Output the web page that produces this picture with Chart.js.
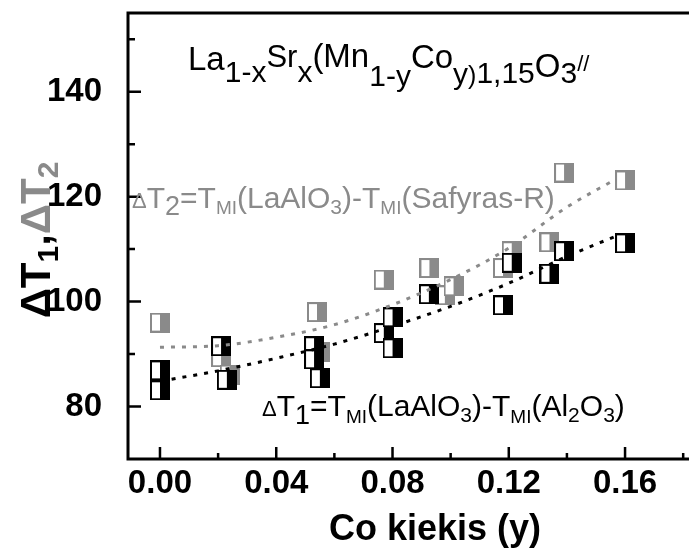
<!DOCTYPE html>
<html><head><meta charset="utf-8">
<script src="https://cdn.jsdelivr.net/npm/chart.js@4.4.0/dist/chart.umd.min.js"></script>
<style>html,body{margin:0;padding:0;background:#fff;}</style>
</head><body>
<canvas id="c" width="700" height="551" style="width:700px;height:551px;display:block"></canvas>
<script>
// ---- data ----
const xMajorTicks = [0, 0.04, 0.08, 0.12, 0.16];
const xMinorTicks = [0.02, 0.06, 0.10, 0.14, 0.18];
const yMajorTicks = [80, 100, 120, 140];
const yMinorTicks = [90, 110, 130, 150];

// dT1 (black half-filled squares)
const dT1_x = [0, 0, 0.021, 0.023, 0.053, 0.053, 0.055, 0.077, 0.080, 0.080, 0.0925, 0.118, 0.121, 0.134, 0.139, 0.160];
const dT1_y = [86.9, 83.1, 91.5, 85.1, 91.5, 89.0, 85.4, 94.0, 97.0, 91.1, 101.4, 99.3, 107.4, 105.3, 109.6, 111.1];
// dT2 (grey half-filled squares)
const dT2_x = [0, 0.021, 0.024, 0.054, 0.055, 0.077, 0.0927, 0.098, 0.101, 0.118, 0.121, 0.134, 0.139, 0.160];
const dT2_y = [96.0, 89.4, 86.1, 98.0, 90.4, 104.2, 106.4, 101.2, 102.9, 106.4, 109.6, 111.3, 124.6, 123.1];
// dotted trend curves
const fit1_x = [0.004, 0.02, 0.04, 0.06, 0.08, 0.10, 0.12, 0.14, 0.157];
const fit1_y = [85.2, 86.8, 89.2, 91.9, 95.3, 99.1, 103.5, 108.6, 112.5];
const fit2_x = [0.0, 0.02, 0.04, 0.06, 0.08, 0.10, 0.12, 0.14, 0.157];
const fit2_y = [91.3, 91.6, 93.2, 95.6, 99.4, 104.2, 110.2, 118.0, 123.4];

const BLACK = '#000000';
const GREY = '#8a8a8a';
const FONT = '"Liberation Sans", Arial, sans-serif';

function pts(xs, ys){ return xs.map((x,i)=>({x:x, y:ys[i]})); }

function makeMarker(color){
  const c = document.createElement('canvas');
  c.width = 20; c.height = 20;
  const g = c.getContext('2d');
  g.fillStyle = '#ffffff'; g.fillRect(0,0,20,20);
  g.fillStyle = color; g.fillRect(10,0,10,20);
  g.strokeStyle = color; g.lineWidth = 2; g.strokeRect(1,1,18,18);
  return c;
}
const mBlack = makeMarker(BLACK);
const mGrey = makeMarker(GREY);

function drawRich(ctx, x, y, segs, align){
  let total = 0;
  for (const s of segs){ ctx.font = (s.b?'bold ':'') + s.s + 'px ' + FONT; s.w = ctx.measureText(s.t).width; total += s.w; }
  let cx = align === 'center' ? x - total/2 : x;
  ctx.textAlign = 'left'; ctx.textBaseline = 'alphabetic';
  for (const s of segs){
    ctx.font = (s.b?'bold ':'') + s.s + 'px ' + FONT;
    ctx.fillStyle = s.c;
    ctx.fillText(s.t, cx, y + (s.dy||0));
    cx += s.w;
  }
}

const decor = {
  id: 'decor',
  afterDatasetsDraw(chart){
    const ctx = chart.ctx, a = chart.chartArea;
    const xs = chart.scales.x, ys = chart.scales.y;
    ctx.save();
    ctx.strokeStyle = '#000'; ctx.lineWidth = 3; ctx.lineCap = 'butt';
    // frame: left, bottom, top
    ctx.beginPath();
    ctx.moveTo(a.left, a.top); ctx.lineTo(a.left, a.bottom);
    ctx.moveTo(a.left - 1.5, a.bottom); ctx.lineTo(a.right, a.bottom);
    ctx.moveTo(a.left - 1.5, a.top); ctx.lineTo(a.right, a.top);
    ctx.stroke();
    ctx.lineWidth = 2.5;
    ctx.beginPath();
    for (const v of xMajorTicks){ const p = xs.getPixelForValue(v); ctx.moveTo(p, a.bottom); ctx.lineTo(p, a.bottom - 12); }
    for (const v of xMinorTicks){ const p = xs.getPixelForValue(v); ctx.moveTo(p, a.bottom); ctx.lineTo(p, a.bottom - 6); }
    for (const v of yMajorTicks){ const p = ys.getPixelForValue(v); ctx.moveTo(a.left, p); ctx.lineTo(a.left + 13, p); }
    for (const v of yMinorTicks){ const p = ys.getPixelForValue(v); ctx.moveTo(a.left, p); ctx.lineTo(a.left + 7, p); }
    ctx.stroke();

    // x-axis title
    drawRich(ctx, 435, 540, [{t:'Co kiekis (y)', s:36, b:true, c:BLACK}], 'center');

    // y-axis title, rotated
    ctx.save();
    ctx.translate(50, 240);
    ctx.rotate(-Math.PI/2);
    drawRich(ctx, 0, 0, [
      {t:'\u0394T', s:42, b:true, c:BLACK},
      {t:'1', s:30, b:true, c:BLACK, dy:8},
      {t:',', s:42, b:true, c:BLACK},
      {t:'\u0394T', s:42, b:true, c:GREY},
      {t:'2', s:30, b:true, c:GREY, dy:8}
    ], 'center');
    ctx.restore();

    // composition title
    drawRich(ctx, 188, 70, [
      {t:'La', s:33, c:BLACK},
      {t:'1-x', s:30, c:BLACK, dy:12},
      {t:'Sr', s:31, c:BLACK, dy:-3},
      {t:'x', s:30, c:BLACK, dy:12},
      {t:'(Mn', s:33, c:BLACK, dy:-3},
      {t:'1-y', s:30, c:BLACK, dy:16},
      {t:'Co', s:33, c:BLACK, dy:-2},
      {t:'y', s:30, c:BLACK, dy:14},
      {t:')', s:25, c:BLACK, dy:14},
      {t:'1,15', s:30, c:BLACK, dy:13},
      {t:'O', s:33, c:BLACK, dy:7},
      {t:'3', s:30, c:BLACK, dy:13},
      {t:'//', s:22, c:BLACK, dy:1}
    ], 'left');

    // grey annotation
    drawRich(ctx, 132, 208, [
      {t:'\u0394', s:22, c:GREY},
      {t:'T', s:30, c:GREY},
      {t:'2', s:27, c:GREY, dy:7},
      {t:'=T', s:30, c:GREY},
      {t:'MI', s:19, c:GREY, dy:6},
      {t:'(LaAlO', s:30, c:GREY},
      {t:'3', s:21, c:GREY, dy:6},
      {t:')-T', s:30, c:GREY},
      {t:'MI', s:19, c:GREY, dy:6},
      {t:'(Safyras-R)', s:30, c:GREY}
    ], 'left');

    // black annotation
    drawRich(ctx, 262, 416, [
      {t:'\u0394', s:22, c:BLACK},
      {t:'T', s:30, c:BLACK},
      {t:'1', s:27, c:BLACK, dy:8},
      {t:'=T', s:30, c:BLACK},
      {t:'MI', s:19, c:BLACK, dy:7},
      {t:'(LaAlO', s:30, c:BLACK},
      {t:'3', s:21, c:BLACK, dy:6},
      {t:')-T', s:30, c:BLACK},
      {t:'MI', s:19, c:BLACK, dy:7},
      {t:'(Al', s:30, c:BLACK},
      {t:'2', s:21, c:BLACK, dy:6},
      {t:'O', s:30, c:BLACK},
      {t:'3', s:21, c:BLACK, dy:6},
      {t:')', s:30, c:BLACK}
    ], 'left');
    ctx.restore();
  }
};

const xAll = xMajorTicks.concat(xMinorTicks).sort((a,b)=>a-b);
const yAll = yMajorTicks.concat(yMinorTicks).sort((a,b)=>a-b);

new Chart(document.getElementById('c'), {
  type: 'scatter',
  data: {
    datasets: [
      { label:'fit1', data: pts(fit1_x, fit1_y), showLine:true, pointRadius:0, borderColor:BLACK, borderWidth:3, borderDash:[4,7], cubicInterpolationMode:'monotone', fill:false },
      { label:'fit2', data: pts(fit2_x, fit2_y), showLine:true, pointRadius:0, borderColor:GREY, borderWidth:3, borderDash:[4,7], cubicInterpolationMode:'monotone', fill:false },
      { label:'dT1', data: pts(dT1_x, dT1_y), pointStyle: mBlack, pointRadius:10, showLine:false },
      { label:'dT2', data: pts(dT2_x, dT2_y), pointStyle: mGrey, pointRadius:10, showLine:false }
    ]
  },
  options: {
    responsive:false, animation:false, devicePixelRatio:1, events:[],
    layout:{ padding:{ left:0, right:0, top:13, bottom:0 } },
    plugins:{ legend:{display:false}, tooltip:{enabled:false}, title:{display:false} },
    scales:{
      x:{ type:'linear', min:-0.011, max:0.182,
        afterBuildTicks: s => { s.ticks = xAll.map(v=>({value:v})); },
        afterFit: s => { s.height = 92; s.paddingLeft = 0; s.paddingRight = 0; s.paddingTop = 0; s.paddingBottom = 0; },
        grid:{ display:false }, border:{ display:false },
        ticks:{ autoSkip:false, maxRotation:0, padding:-3, color:'#000',
          font:{ family:FONT, size:33, weight:'bold' },
          callback: v => xMajorTicks.some(m=>Math.abs(m-v)<1e-9) ? v.toFixed(2) : '' } },
      y:{ type:'linear', min:70, max:155,
        afterBuildTicks: s => { s.ticks = yAll.map(v=>({value:v})); },
        afterFit: s => { s.width = 128; s.paddingTop = 0; s.paddingBottom = 0; s.paddingLeft = 0; s.paddingRight = 0; },
        grid:{ display:false }, border:{ display:false },
        ticks:{ autoSkip:false, padding:18, color:'#000',
          font:{ family:FONT, size:33, weight:'bold' },
          callback: v => yMajorTicks.includes(v) ? String(v) : '' } }
    }
  },
  plugins:[decor]
});
</script>
</body></html>
